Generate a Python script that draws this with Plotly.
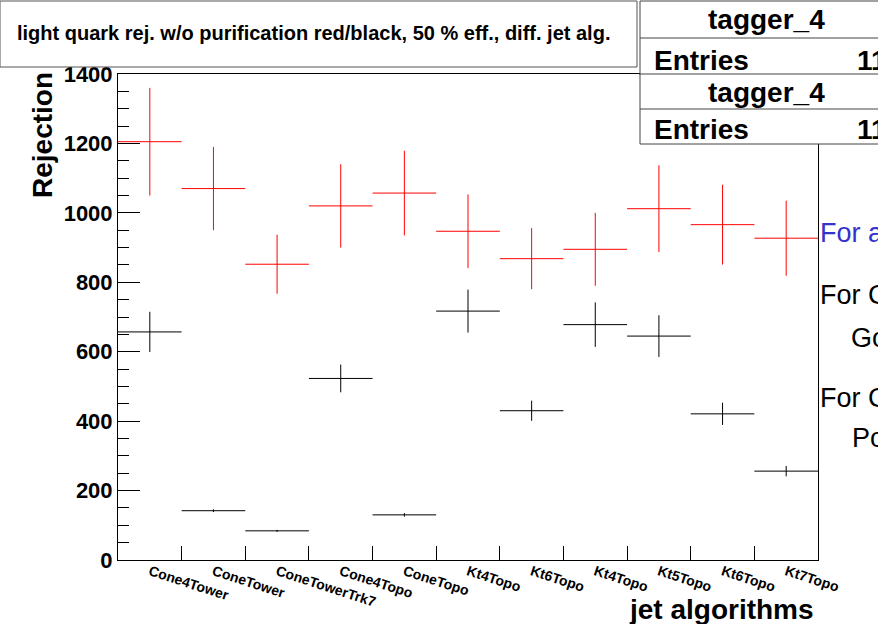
import plotly.graph_objects as go

# Jet algorithm categories (one bin each)
algorithms = ["Cone4Tower", "ConeTower", "ConeTowerTrk7", "Cone4Topo", "ConeTopo",
              "Kt4Topo", "Kt6Topo", "Kt4Topo", "Kt5Topo", "Kt6Topo", "Kt7Topo"]

# Light quark rejection at 50 % b-tag efficiency
rej_red = [1205, 1070, 852, 1020, 1057, 947, 868, 895, 1012, 966, 927]
err_red = [155, 120, 85, 120, 122, 106, 88, 105, 125, 115, 108]
rej_black = [657, 142, 84, 523, 130, 717, 430, 678, 645, 421, 256]
err_black = [58, 4, 3, 40, 5, 62, 29, 64, 60, 32, 15]

y_ticks = [0, 200, 400, 600, 800, 1000, 1200, 1400]

n_bins = len(algorithms)
centers = [i + 0.5 for i in range(n_bins)]
edges = [i for i in range(1, n_bins)]

W, H = 878, 624
L, R, T, B = 118, 60, 74, 64
PW, PH = W - L - R, H - T - B

def px(x):
    return (x - L) / PW

def py(y):
    return (H - B - y) / PH

FONT = "Liberation Sans"

def hist_trace(vals, errs, color):
    return go.Scatter(
        x=centers, y=vals, mode="markers",
        marker=dict(size=1, color="rgba(0,0,0,0)"),
        error_x=dict(type="constant", value=0.5, width=0, thickness=1, color=color),
        error_y=dict(type="data", array=errs, width=0, thickness=1, color=color),
        showlegend=False, hoverinfo="skip",
    )

fig = go.Figure()
fig.add_trace(hist_trace(rej_black, err_black, "#000000"))
fig.add_trace(hist_trace(rej_red, err_red, "#ff0000"))

fig.update_layout(
    width=W, height=H,
    margin=dict(l=L, r=R, t=T, b=B, pad=0),
    paper_bgcolor="white", plot_bgcolor="white",
    showlegend=False,
    xaxis=dict(
        range=[0, n_bins], tickmode="array", tickvals=edges,
        ticks="inside", ticklen=14, tickcolor="black", tickwidth=1,
        showticklabels=False, showline=True, mirror=True, linecolor="black",
        linewidth=1, showgrid=False, zeroline=False,
    ),
    xaxis2=dict(
        overlaying="x", anchor="y", side="bottom", range=[0, n_bins],
        tickmode="array", tickvals=centers, ticktext=algorithms,
        ticks="", tickangle=18, showline=False, showgrid=False, zeroline=False,
        tickfont=dict(family=FONT, size=14, color="black", weight="bold"),
    ),
    yaxis=dict(
        range=[0, 1400], tickmode="array", tickvals=y_ticks,
        ticks="inside", ticklen=22, tickcolor="black", tickwidth=1,
        minor=dict(dtick=50, ticks="inside", ticklen=11, tickcolor="black"),
        showline=True, mirror=True, linecolor="black", linewidth=1,
        showgrid=False, zeroline=False,
        tickfont=dict(family=FONT, size=22, color="black", weight="bold"),
    ),
)
# placeholder trace so the label axis (x2) is drawn
fig.add_trace(go.Scatter(x=[centers[0]], y=[0], xaxis="x2", mode="markers",
                         marker=dict(size=1, color="rgba(0,0,0,0)"),
                         showlegend=False, hoverinfo="skip"))

shapes = []
# title pave
shapes.append(dict(type="rect", xref="paper", yref="paper",
                   x0=px(0), x1=px(637), y0=py(67), y1=py(1),
                   line=dict(color="#555555", width=1), fillcolor="white", layer="above"))
# stats boxes
for top, mid, bot in [(1, 38, 75), (74, 109, 144)]:
    shapes.append(dict(type="rect", xref="paper", yref="paper",
                       x0=px(640), x1=px(900), y0=py(bot), y1=py(top),
                       line=dict(color="#444444", width=1), fillcolor="white", layer="above"))
    shapes.append(dict(type="line", xref="paper", yref="paper",
                       x0=px(640), x1=px(900), y0=py(mid), y1=py(mid),
                       line=dict(color="#444444", width=1), layer="above"))
fig.update_layout(shapes=shapes)

def note(text, x, y, size, xanchor="center", color="black", bold=False, angle=0):
    fig.add_annotation(text=text, xref="paper", yref="paper", x=px(x), y=py(y),
                       xanchor=xanchor, yanchor="middle", showarrow=False,
                       textangle=angle,
                       font=dict(family=FONT, size=size, color=color,
                                 weight="bold" if bold else "normal"))

note("light quark rej. w/o purification red/black, 50 % eff., diff. jet alg.",
     313, 33, 20, bold=True)
note("tagger_4", 766, 19, 28, bold=True)
note("Entries", 652, 60, 28, xanchor="left", bold=True)
note("11", 855, 60, 28, xanchor="left", bold=True)
note("tagger_4", 766, 92, 28, bold=True)
note("Entries", 652, 129, 28, xanchor="left", bold=True)
note("11", 855, 129, 28, xanchor="left", bold=True)

note("Rejection", 42, 135, 28, bold=True, angle=-90)
note("jet algorithms", 816, 609, 28, xanchor="right", bold=True)

note("For a", 818, 233, 27, xanchor="left", color="#3333cc")
note("For C", 818, 295, 27, xanchor="left")
note("Go", 849, 338, 27, xanchor="left")
note("For C", 818, 398, 27, xanchor="left")
note("Po", 850, 438, 27, xanchor="left")

fig.write_html("out.html")
